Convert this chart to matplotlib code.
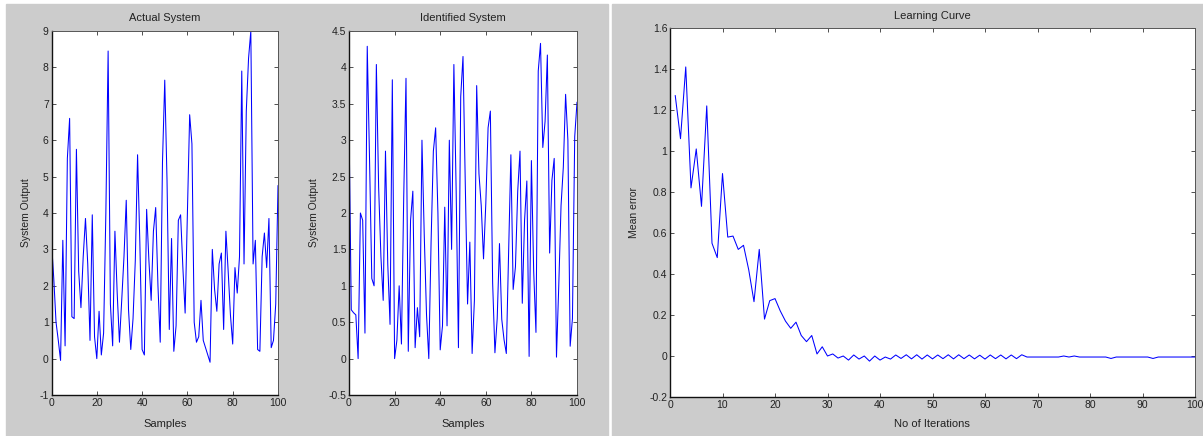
import matplotlib.pyplot as plt
from matplotlib.patches import Rectangle
from matplotlib.ticker import FuncFormatter
import numpy as np

plt.rcParams['font.family'] = ['Liberation Sans', 'DejaVu Sans']

# system outputs, samples 0..100
actual = [3.2, 2.2, 1.0, 0.5, -0.05, 3.25, 0.35, 5.5, 6.6, 1.15,
          1.1, 5.75, 2.4, 1.4, 2.8, 3.85, 2.6, 0.5, 3.95, 0.6,
          0.0, 1.3, 0.1, 0.7, 4.0, 8.45, 1.5, 0.35, 3.5, 1.8,
          0.45, 1.6, 2.8, 4.35, 1.35, 0.25, 1.1, 2.7, 5.6, 3.2,
          0.25, 0.1, 4.1, 2.7, 1.6, 3.5, 4.15, 2.0, 0.45, 5.4,
          7.65, 4.9, 0.8, 3.3, 0.2, 0.9, 3.8, 3.95, 2.5, 1.25,
          4.0, 6.7, 5.9, 1.0, 0.45, 0.6, 1.6, 0.5, 0.3, 0.1,
          -0.1, 3.0, 1.9, 1.3, 2.6, 2.9, 0.8, 3.5, 2.4, 1.2,
          0.4, 2.5, 1.8, 2.8, 7.9, 2.6, 6.8, 8.25, 9.0, 2.6,
          3.25, 0.25, 0.2, 2.8, 3.45, 2.5, 3.85, 0.3, 0.5, 1.5,
          4.75]
identified = [3.22, 0.67, 0.63, 0.6, 0.0, 2.0, 1.9, 0.35, 4.29, 2.75,
              1.1, 1.0, 4.04, 2.35, 1.4, 0.8, 2.85, 1.3, 0.47, 3.83,
              0.0, 0.25, 1.0, 0.2, 2.22, 3.85, 0.1, 1.9, 2.3, 0.15,
              0.7, 0.3, 3.0, 1.7, 0.6, 0.0, 1.6, 2.85, 3.17, 2.0,
              0.12, 0.45, 2.08, 0.45, 3.0, 1.5, 4.04, 2.3, 0.15, 3.6,
              4.15, 2.4, 0.75, 1.6, 0.07, 0.8, 3.75, 2.54, 2.1, 1.37,
              2.13, 3.17, 3.4, 1.04, 0.08, 0.55, 1.58, 0.54, 0.26, 0.07,
              1.45, 2.8, 0.95, 1.26, 2.3, 2.85, 0.76, 1.9, 2.44, 0.03,
              2.72, 1.2, 0.36, 3.95, 4.33, 2.9, 3.26, 4.17, 1.45, 2.45,
              2.75, 0.02, 1.0, 2.1, 2.63, 3.63, 3.0, 0.17, 0.55, 3.05,
              3.52]
samples = np.arange(len(actual))

# learning curve, iterations 1..100
mean_err = [1.27, 1.06, 1.41, 0.82, 1.01, 0.73, 1.22, 0.55, 0.48, 0.89,
            0.58, 0.585, 0.52, 0.54, 0.42, 0.265, 0.52, 0.18, 0.27, 0.28,
            0.22, 0.17, 0.135, 0.165, 0.10, 0.07, 0.10, 0.01, 0.045, 0.0,
            0.01, -0.01, 0.0, -0.02, 0.005, -0.015, 0.0, -0.025, 0.0, -0.02,
            -0.005, -0.015, 0.005, -0.012, 0.006, -0.014, 0.006, -0.015, 0.005, -0.014,
            0.005, -0.013, 0.006, -0.014, 0.006, -0.013, 0.005, -0.014, 0.004, -0.015,
            0.005, -0.013, 0.005, -0.014, 0.005, -0.013, 0.006, -0.005, -0.005, -0.005,
            -0.005, -0.005, -0.005, -0.005, 0.0, -0.005, 0.0, -0.005, -0.005, -0.005,
            -0.005, -0.005, -0.005, -0.012, -0.005, -0.005, -0.005, -0.005, -0.005, -0.005,
            -0.005, -0.012, -0.005, -0.005, -0.005, -0.005, -0.005, -0.005, -0.005, -0.005]
iters = np.arange(1, len(mean_err) + 1)

W, H = 1203, 436
fig = plt.figure(figsize=(W / 100, H / 100), dpi=100, facecolor='white')

# two grey figure windows behind the axes
gray = '#cccccc'
fig.patches.append(Rectangle((6 / W, 0), (608 - 6) / W, (H - 4) / H,
                             transform=fig.transFigure, color=gray, zorder=-10))
fig.patches.append(Rectangle((612 / W, 0), (W - 612) / W, (H - 4) / H,
                             transform=fig.transFigure, color=gray, zorder=-10))


def box(l, t, r, b):
    return [l / W, 1 - b / H, (r - l) / W, (b - t) / H]


fmt = FuncFormatter(lambda v, p: ('%g' % round(v, 2)))
txt = '#222222'


def style(ax):
    ax.set_facecolor('white')
    ax.set_zorder(5)
    ax.tick_params(direction='in', top=True, right=True, length=3, width=0.6,
                   labelsize=7.5, colors='#333333', labelcolor=txt, pad=2)
    for s in ['left', 'bottom']:
        ax.spines[s].set_color('#111111')
        ax.spines[s].set_linewidth(1.0)
    for s in ['top', 'right']:
        ax.spines[s].set_color('#555555')
        ax.spines[s].set_linewidth(0.7)
    ax.yaxis.set_major_formatter(fmt)
    ax.xaxis.set_major_formatter(fmt)


lw = 0.75

ax1 = fig.add_axes(box(51.5, 31, 278, 395))
ax1.plot(samples, actual, color='#0000ff', lw=lw)
ax1.set_xlim(0, 100)
ax1.set_ylim(-1, 9)
ax1.set_xticks(np.arange(0, 101, 20))
ax1.set_yticks(np.arange(-1, 10, 1))
style(ax1)

ax2 = fig.add_axes(box(349, 31, 577, 395))
ax2.plot(samples, identified, color='#0000ff', lw=lw)
ax2.set_xlim(0, 100)
ax2.set_ylim(-0.5, 4.5)
ax2.set_xticks(np.arange(0, 101, 20))
ax2.set_yticks(np.arange(-0.5, 4.51, 0.5))
style(ax2)

ax3 = fig.add_axes(box(670, 28, 1195, 397))
ax3.plot(iters, mean_err, color='#0000ff', lw=lw)
ax3.set_xlim(0, 100)
ax3.set_ylim(-0.2, 1.6)
ax3.set_xticks(np.arange(0, 101, 10))
ax3.set_yticks(np.arange(-0.2, 1.61, 0.2))
style(ax3)

fs = 8
fig.text(165 / W, 1 - 18 / H, 'Actual System', ha='center', va='center', fontsize=fs, color=txt)
fig.text(463 / W, 1 - 18 / H, 'Identified System', ha='center', va='center', fontsize=fs, color=txt)
fig.text(932 / W, 1 - 16 / H, 'Learning Curve', ha='center', va='center', fontsize=fs, color=txt)

fig.text(165 / W, 1 - 424 / H, 'Samples', ha='center', va='center', fontsize=fs, color=txt)
fig.text(463 / W, 1 - 424 / H, 'Samples', ha='center', va='center', fontsize=fs, color=txt)
fig.text(932 / W, 1 - 424 / H, 'No of Iterations', ha='center', va='center', fontsize=fs, color=txt)

fig.text(26 / W, 1 - 213 / H, 'System Output', rotation=90, ha='center', va='center', fontsize=7.5, color=txt)
fig.text(314 / W, 1 - 213 / H, 'System Output', rotation=90, ha='center', va='center', fontsize=7.5, color=txt)
fig.text(634 / W, 1 - 212 / H, 'Mean error', rotation=90, ha='center', va='center', fontsize=7.5, color=txt)

fig.savefig('out.png', dpi=100, facecolor=fig.get_facecolor())
